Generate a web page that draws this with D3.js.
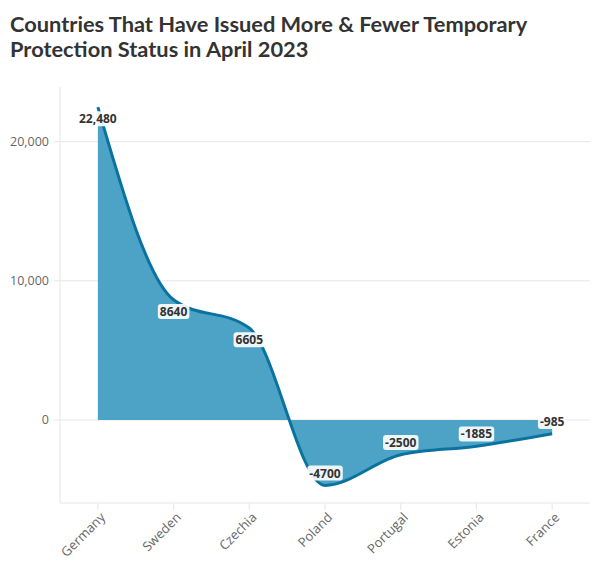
<!DOCTYPE html>
<html>
<head>
<meta charset="utf-8">
<script src="https://cdn.jsdelivr.net/npm/d3@7"></script>
<style>
  body { margin: 0; background: #fff; }
  svg { display: block; }
</style>
</head>
<body>
<svg id="chart" width="611" height="575"></svg>
<script>
const titleLines = ["Countries That Have Issued More & Fewer Temporary", "Protection Status in April 2023"];
const categories = ["Germany", "Sweden", "Czechia", "Poland", "Portugal", "Estonia", "France"];
const values = [22480, 8640, 6605, -4700, -2500, -1885, -985];
const labels = ["22,480", "8640", "6605", "-4700", "-2500", "-1885", "-985"];
const yTicks = [0, 10000, 20000];

const svg = d3.select("#chart");
const m = { left: 60, right: 590, top: 87, bottom: 503 };

// title
svg.append("g").selectAll("text").data(titleLines).join("text")
  .attr("x", 10).attr("y", (d, i) => 32 + i * 25)
  .attr("font-family", "Lato, 'Open Sans', sans-serif")
  .attr("font-weight", 700).attr("font-size", 21.8).attr("fill", "#333")
  .text(d => d);

const x = d3.scaleBand().domain(categories).range([m.left, m.right]);
const cx = d => x(d) + x.bandwidth() / 2;
const y = d3.scaleLinear().domain([-5963, 23922]).range([m.bottom, m.top]);

// grid
svg.append("g").selectAll("line").data(yTicks).join("line")
  .attr("x1", m.left - 6).attr("x2", m.right)
  .attr("y1", d => y(d)).attr("y2", d => y(d))
  .attr("stroke", "#e6e6e6").attr("stroke-width", 1);

// axes lines
svg.append("line").attr("x1", m.left).attr("x2", m.left).attr("y1", m.top).attr("y2", m.bottom)
  .attr("stroke", "#e6e6e6");
svg.append("line").attr("x1", m.left).attr("x2", m.right).attr("y1", m.bottom).attr("y2", m.bottom)
  .attr("stroke", "#e6e6e6");

// y labels
svg.append("g").selectAll("text").data(yTicks).join("text")
  .attr("x", 49).attr("y", d => y(d)).attr("dy", "0.35em")
  .attr("text-anchor", "end")
  .attr("font-family", "'Open Sans', sans-serif").attr("font-size", 12.5).attr("fill", "#666")
  .text(d => d3.format(",")(d));

// x ticks and labels
const xg = svg.append("g");
xg.selectAll("line").data(categories).join("line")
  .attr("x1", d => cx(d)).attr("x2", d => cx(d))
  .attr("y1", m.bottom).attr("y2", m.bottom + 7)
  .attr("stroke", "#e6e6e6");
xg.selectAll("text").data(categories).join("text")
  .attr("transform", d => `translate(${cx(d) + 5},${m.bottom + 12}) rotate(-45)`)
  .attr("text-anchor", "end").attr("dy", "0.35em")
  .attr("font-family", "'Open Sans', sans-serif").attr("font-size", 13).attr("fill", "#666")
  .text(d => d);

const data = categories.map((c, i) => ({ c, v: values[i], l: labels[i] }));

const area = d3.area().curve(d3.curveMonotoneX)
  .x(d => cx(d.c)).y0(y(0)).y1(d => y(d.v));
const line = d3.line().curve(d3.curveMonotoneX)
  .x(d => cx(d.c)).y(d => y(d.v));

svg.append("path").datum(data).attr("d", area).attr("fill", "#4ca3c6");
svg.append("path").datum(data).attr("d", line)
  .attr("fill", "none").attr("stroke", "#0b72a0").attr("stroke-width", 3);

// data labels
const lg = svg.append("g");
data.forEach(d => {
  const g = lg.append("g")
    .attr("transform", `translate(${cx(d.c)},${y(d.v) + (d.v >= 0 ? 12 : -12)})`);
  const rect = g.append("rect").attr("fill", "#fff").attr("rx", 3).attr("opacity", 0.9);
  const t = g.append("text").attr("text-anchor", "middle").attr("dy", "0.35em")
    .attr("font-family", "'Open Sans', sans-serif").attr("font-weight", 700)
    .attr("font-size", 12).attr("fill", "#333").text(d.l);
  const bb = t.node().getBBox();
  rect.attr("x", bb.x - 2).attr("y", bb.y + 1).attr("width", bb.width + 4).attr("height", bb.height - 2);
});
</script>
</body>
</html>
